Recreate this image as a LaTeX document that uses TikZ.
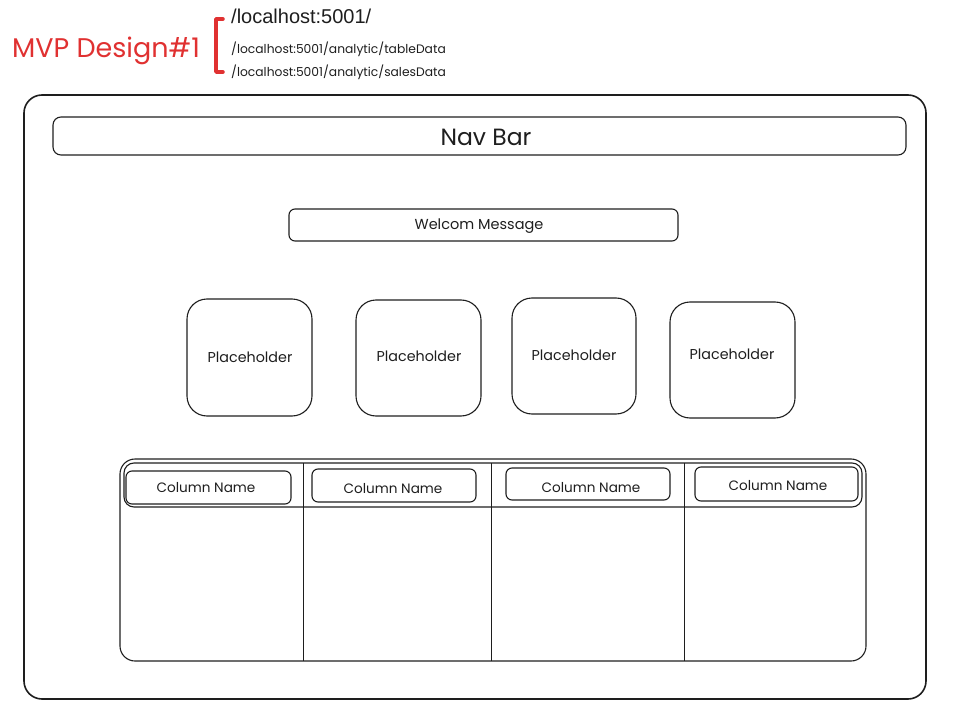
\documentclass[tikz,border=0pt]{standalone}
\usepackage{fontspec}
\setmainfont{Poppins}
\newfontfamily\urlfont{Liberation Sans}
\definecolor{ink}{HTML}{1E1E1E}
\definecolor{redink}{HTML}{E03131}
\begin{document}
\begin{tikzpicture}[x=1pt,y=-1pt,
  box/.style={draw=ink,line width=1.1pt},
  lbl/.style={text=ink,inner sep=0pt,anchor=center},
  line/.style={draw=ink,line width=0.9pt}]
\useasboundingbox (0,0) rectangle (961,714);
% title
\node[text=redink,inner sep=0pt,anchor=west,font=\fontsize{27}{30}\selectfont] (title) at (12,51) {MVP Design\#1};
\draw[redink,line width=3.5pt,line cap=round,line join=round] (223,19) -- (216,19) -- (216,72) -- (223,72);
\node[inner sep=0pt,anchor=base west,font=\urlfont\fontsize{20}{24}\selectfont,text=ink] (u1) at (231,24) {/localhost:5001/};
\node[inner sep=0pt,anchor=west,font=\fontsize{12.3}{14}\selectfont,text=ink] (u2) at (231,49) {/localhost:5001/analytic/tableData};
\node[inner sep=0pt,anchor=west,font=\fontsize{12.3}{14}\selectfont,text=ink] (u3) at (231,72) {/localhost:5001/analytic/salesData};
% frame
\draw[box,line width=1.6pt,rounded corners=18pt] (24,95) rectangle (926,699);
\draw[box,rounded corners=8pt] (53,117) rectangle (906,155);
\node[lbl,font=\fontsize{23.5}{26}\selectfont] (nav) at (486,137) {Nav Bar};
\draw[box,rounded corners=6pt] (289,209) rectangle (678,241);
\node[lbl,font=\fontsize{14.5}{17}\selectfont] (welc) at (479,226) {Welcom Message};
% placeholders
\draw[box,rounded corners=20pt] (187,299) rectangle (312,416);
\node[lbl,font=\fontsize{14.3}{17}\selectfont] (p1) at (250,357) {Placeholder};
\draw[box,rounded corners=20pt] (356,300) rectangle (481,416);
\node[lbl,font=\fontsize{14.3}{17}\selectfont] (p2) at (419,356) {Placeholder};
\draw[box,rounded corners=20pt] (512,298) rectangle (636,414);
\node[lbl,font=\fontsize{14.3}{17}\selectfont] (p3) at (574,355) {Placeholder};
\draw[box,rounded corners=20pt] (670,302) rectangle (795,418);
\node[lbl,font=\fontsize{14.3}{17}\selectfont] (p4) at (732,354) {Placeholder};
% table
\draw[box,rounded corners=15pt] (120,459) rectangle (866,661);
\draw[box,rounded corners=10pt] (124,463) rectangle (862,507);
\draw[line] (303,463) -- (303,661);
\draw[line] (491,463) -- (491,661);
\draw[line] (684,463) -- (684,661);
\draw[box,rounded corners=6pt] (126,471) rectangle (291,504);
\node[lbl,font=\fontsize{13.6}{16}\selectfont] (c1) at (206,488) {Column Name};
\draw[box,rounded corners=6pt] (312,469) rectangle (476,502);
\node[lbl,font=\fontsize{13.6}{16}\selectfont] (c2) at (393,489) {Column Name};
\draw[box,rounded corners=6pt] (506,468) rectangle (670,500);
\node[lbl,font=\fontsize{13.6}{16}\selectfont] (c3) at (591,488) {Column Name};
\draw[box,rounded corners=6pt] (695,467) rectangle (858,501);
\node[lbl,font=\fontsize{13.6}{16}\selectfont] (c4) at (778,486) {Column Name};
\end{tikzpicture}
\end{document}
